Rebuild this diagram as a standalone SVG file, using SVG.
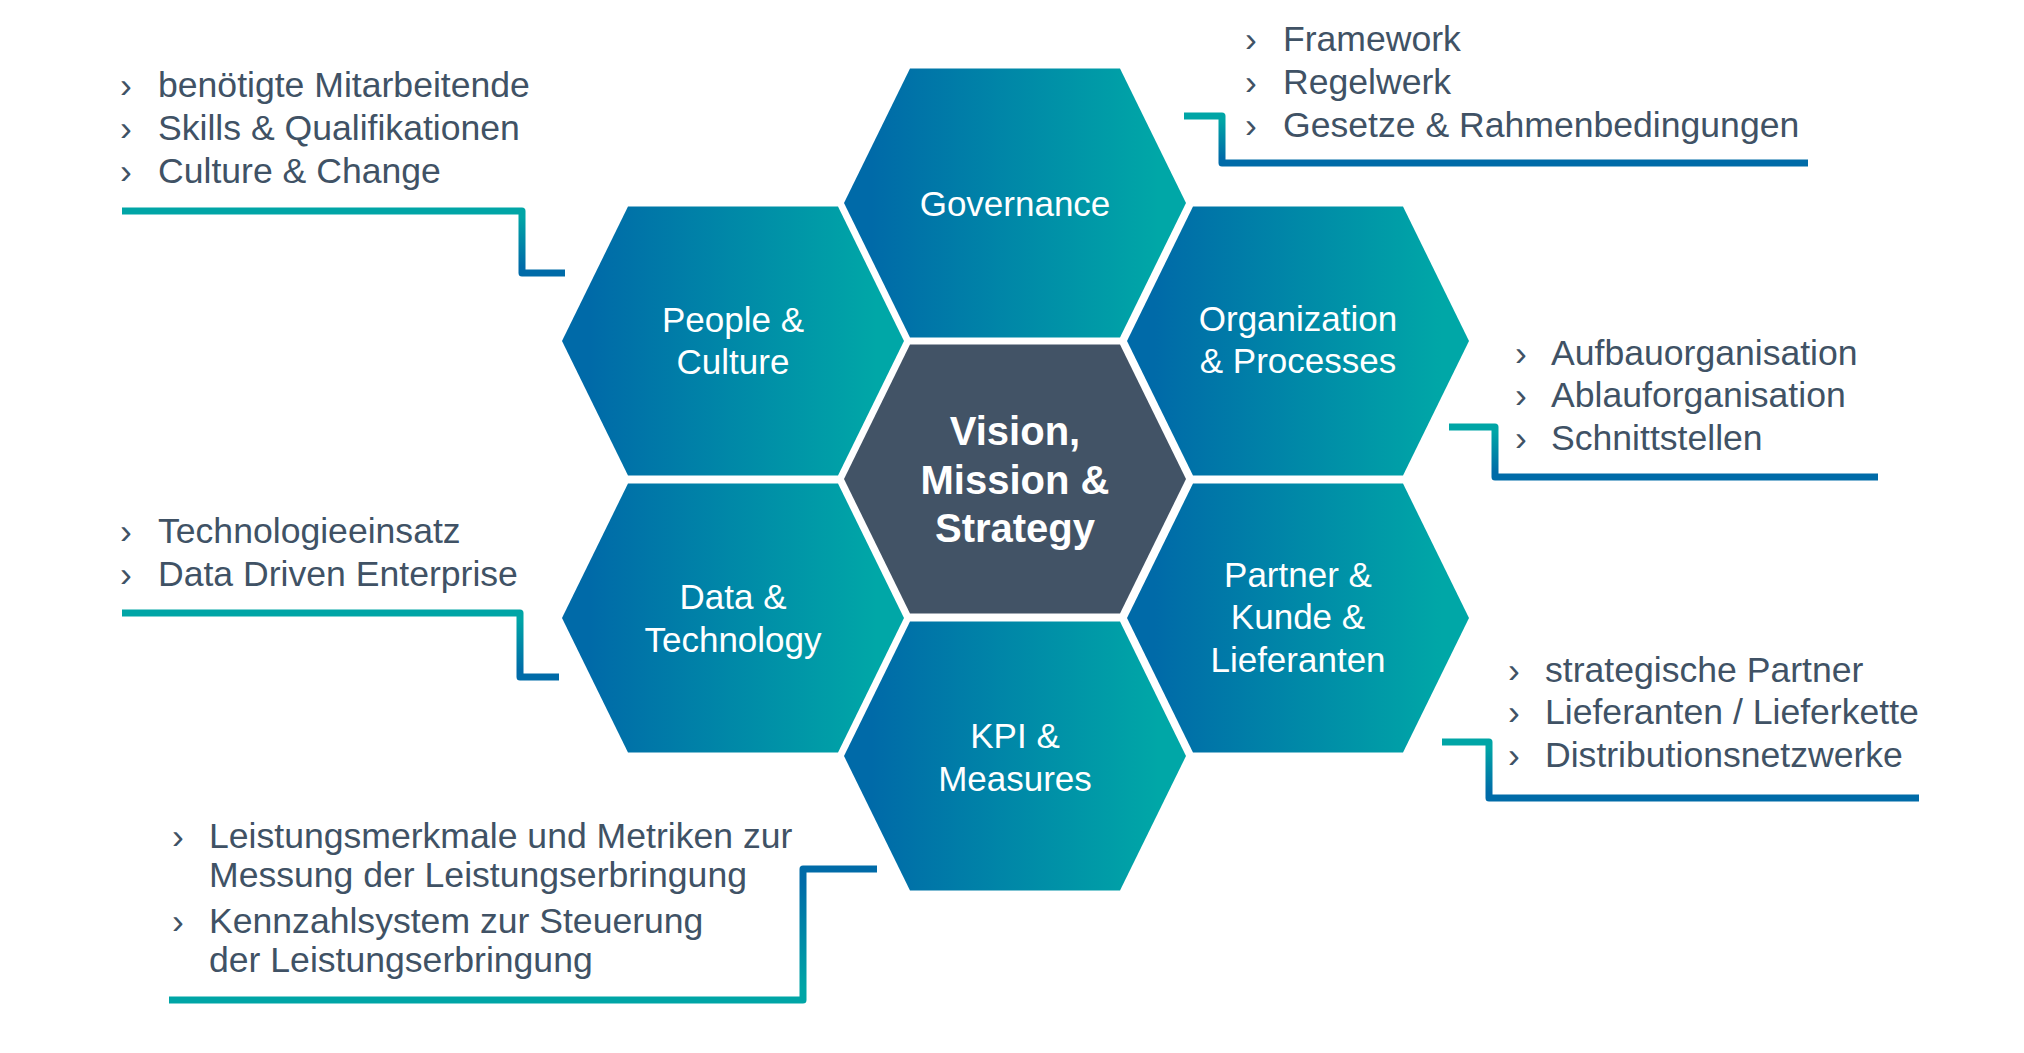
<svg xmlns="http://www.w3.org/2000/svg" xmlns:xlink="http://www.w3.org/1999/xlink" width="2024" height="1053" viewBox="0 0 2024 1053">
<style>
  .hexg { fill: url(#hexGrad); }
  .hexc { fill: #425366; }
  .lbl { font-family: "Liberation Sans", Arial, sans-serif; font-size: 35px; fill: #ffffff; text-anchor: middle; }
  .lblb { font-family: "Liberation Sans", Arial, sans-serif; font-size: 40px; font-weight: bold; fill: #ffffff; text-anchor: middle; }
  .txt { font-family: "Liberation Sans", Arial, sans-serif; font-size: 35.6px; fill: #405265; }
  .con { fill: none; stroke-width: 7; stroke-linejoin: round; }
</style>
<defs>
  <linearGradient id="hexGrad" x1="0" y1="0" x2="1" y2="0">
    <stop offset="0.08" stop-color="#006AA8"/>
    <stop offset="0.92" stop-color="#00A7A7"/>
  </linearGradient>
  <linearGradient id="tealBlue" x1="0" y1="0" x2="0" y2="1">
    <stop offset="0.1" stop-color="#00A5A6"/>
    <stop offset="0.9" stop-color="#006BA8"/>
  </linearGradient>
  <linearGradient id="blueTeal" x1="0" y1="0" x2="0" y2="1">
    <stop offset="0.1" stop-color="#006BA8"/>
    <stop offset="0.9" stop-color="#00A5A6"/>
  </linearGradient>
  <path id="hex" d="M-105,-134.5 L105,-134.5 L171,0 L105,134.5 L-105,134.5 L-171,0 Z"/>
</defs>
<rect width="2024" height="1053" fill="#ffffff"/>

<g id="connectors">
  <path class="con" stroke="url(#tealBlue)" d="M122,211 H522 V273 H565"/>
  <path class="con" stroke="url(#tealBlue)" d="M1184,116 H1222 V163 H1808"/>
  <path class="con" stroke="url(#tealBlue)" d="M1449,427 H1495 V477 H1878"/>
  <path class="con" stroke="url(#tealBlue)" d="M1442,742 H1489 V798 H1919"/>
  <path class="con" stroke="url(#tealBlue)" d="M122,613 H520 V677 H559"/>
  <path class="con" stroke="url(#blueTeal)" d="M877,869 H803 V1000 H169"/>
</g>

<g id="governance">
  <use xlink:href="#hex" href="#hex" x="1015" y="203" class="hexg"/>
  <text class="lbl" x="1015" y="216">Governance</text>
</g>
<g id="people-culture">
  <use xlink:href="#hex" href="#hex" x="733" y="341" class="hexg"/>
  <text class="lbl" x="733" y="332">People &amp;</text>
  <text class="lbl" x="733" y="374">Culture</text>
</g>
<g id="organization-processes">
  <use xlink:href="#hex" href="#hex" x="1298" y="341" class="hexg"/>
  <text class="lbl" x="1298" y="331">Organization</text>
  <text class="lbl" x="1298" y="373">&amp; Processes</text>
</g>
<g id="vision">
  <use xlink:href="#hex" href="#hex" x="1015" y="479" class="hexc"/>
  <text class="lblb" x="1015" y="445">Vision,</text>
  <text class="lblb" x="1015" y="494">Mission &amp;</text>
  <text class="lblb" x="1015" y="542">Strategy</text>
</g>
<g id="data-technology">
  <use xlink:href="#hex" href="#hex" x="733" y="618" class="hexg"/>
  <text class="lbl" x="733" y="609">Data &amp;</text>
  <text class="lbl" x="733" y="652">Technology</text>
</g>
<g id="partner">
  <use xlink:href="#hex" href="#hex" x="1298" y="618" class="hexg"/>
  <text class="lbl" x="1298" y="587">Partner &amp;</text>
  <text class="lbl" x="1298" y="629">Kunde &amp;</text>
  <text class="lbl" x="1298" y="672">Lieferanten</text>
</g>
<g id="kpi-measures">
  <use xlink:href="#hex" href="#hex" x="1015" y="756" class="hexg"/>
  <text class="lbl" x="1015" y="748">KPI &amp;</text>
  <text class="lbl" x="1015" y="791">Measures</text>
</g>

<g id="notes-people">
  <text class="txt" x="120" y="97">›</text><text class="txt" x="158" y="97">benötigte Mitarbeitende</text>
  <text class="txt" x="120" y="140">›</text><text class="txt" x="158" y="140">Skills &amp; Qualifikationen</text>
  <text class="txt" x="120" y="183">›</text><text class="txt" x="158" y="183">Culture &amp; Change</text>
</g>
<g id="notes-governance">
  <text class="txt" x="1245" y="51">›</text><text class="txt" x="1283" y="51">Framework</text>
  <text class="txt" x="1245" y="94">›</text><text class="txt" x="1283" y="94">Regelwerk</text>
  <text class="txt" x="1245" y="137">›</text><text class="txt" x="1283" y="137">Gesetze &amp; Rahmenbedingungen</text>
</g>
<g id="notes-org">
  <text class="txt" x="1515" y="365">›</text><text class="txt" x="1551" y="365">Aufbauorganisation</text>
  <text class="txt" x="1515" y="407">›</text><text class="txt" x="1551" y="407">Ablauforganisation</text>
  <text class="txt" x="1515" y="450">›</text><text class="txt" x="1551" y="450">Schnittstellen</text>
</g>
<g id="notes-partner">
  <text class="txt" x="1508" y="682">›</text><text class="txt" x="1545" y="682">strategische Partner</text>
  <text class="txt" x="1508" y="724">›</text><text class="txt" x="1545" y="724">Lieferanten / Lieferkette</text>
  <text class="txt" x="1508" y="767">›</text><text class="txt" x="1545" y="767">Distributionsnetzwerke</text>
</g>
<g id="notes-data">
  <text class="txt" x="120" y="543">›</text><text class="txt" x="158" y="543">Technologieeinsatz</text>
  <text class="txt" x="120" y="586">›</text><text class="txt" x="158" y="586">Data Driven Enterprise</text>
</g>
<g id="notes-kpi">
  <text class="txt" x="172" y="848">›</text><text class="txt" x="209" y="848">Leistungsmerkmale und Metriken zur</text>
  <text class="txt" x="209" y="887">Messung der Leistungserbringung</text>
  <text class="txt" x="172" y="933">›</text><text class="txt" x="209" y="933">Kennzahlsystem zur Steuerung</text>
  <text class="txt" x="209" y="972">der Leistungserbringung</text>
</g>
</svg>
